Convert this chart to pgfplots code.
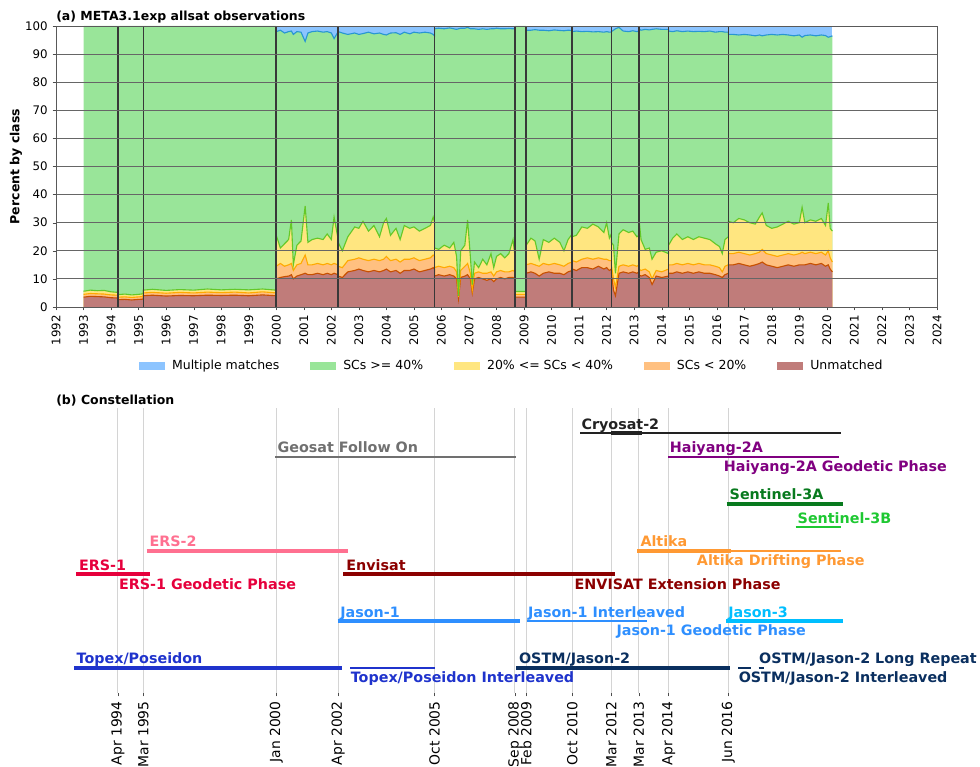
\documentclass[border=0pt]{standalone}
\usepackage{fontspec}
\setmainfont{DejaVu Sans}
\usepackage{pgfplots}
\pgfplotsset{compat=1.18}
\usepackage{pgfplotstable}

% fills
\definecolor{mmF}{RGB}{140,196,255}
\definecolor{hiF}{RGB}{153,229,153}
\definecolor{midF}{RGB}{255,230,128}
\definecolor{lowF}{RGB}{255,192,128}
\definecolor{unF}{RGB}{192,124,122}
% edges
\definecolor{mmL}{RGB}{40,150,210}
\definecolor{hiL}{RGB}{100,200,40}
\definecolor{midL}{RGB}{255,170,0}
\definecolor{lowL}{RGB}{200,80,0}
% missions
\definecolor{cryo}{RGB}{34,34,34}
\definecolor{gfo}{RGB}{112,112,112}
\definecolor{hy}{RGB}{128,0,128}
\definecolor{sthreeA}{RGB}{8,122,30}
\definecolor{sthreeB}{RGB}{30,200,50}
\definecolor{erstwo}{RGB}{255,112,144}
\definecolor{altika}{RGB}{255,153,51}
\definecolor{ersone}{RGB}{230,0,60}
\definecolor{envi}{RGB}{139,0,0}
\definecolor{jone}{RGB}{46,143,255}
\definecolor{jthree}{RGB}{0,191,255}
\definecolor{tp}{RGB}{31,51,204}
\definecolor{ostm}{RGB}{10,47,95}

\newcommand{\lab}{\fontsize{10.3}{12}\selectfont\bfseries}

% cumulative tops: c1 unmatched, c2 SCs<20, c3 20-40, c4 SCs>=40
\pgfplotstableread{
x c1 c2 c3 c4
1993.00 3.5 4.5 5.6 100
1993.25 3.8 4.8 6.0 100
1993.50 3.7 4.7 5.8 100
1993.75 3.6 4.6 5.9 100
1994.00 3.3 4.3 5.4 100
1994.25 3.2 4.2 5.2 100
1994.25 2.6 3.5 4.4 100
1994.50 2.7 3.6 4.6 100
1994.75 2.5 3.4 4.3 100
1995.00 2.7 3.6 4.5 100
1995.17 2.8 3.7 4.7 100
1995.17 4.0 5.0 6.0 100
1995.50 4.2 5.2 6.3 100
1996.00 3.9 4.9 5.9 100
1996.50 4.1 5.2 6.2 100
1997.00 4.0 5.0 6.0 100
1997.50 4.2 5.3 6.4 100
1998.00 4.1 5.1 6.1 100
1998.50 4.2 5.3 6.3 100
1999.00 4.0 5.0 6.1 100
1999.50 4.3 5.4 6.4 100
2000.00 4.0 5.0 6.0 100
2000.00 10.0 14.5 25.5 98.0
2000.15 10.5 15.5 21.0 98.5
2000.30 10.8 14.5 22.5 97.5
2000.45 11.0 15.0 24.0 98.0
2000.55 11.5 15.5 31.0 98.2
2000.62 10.0 13.0 15.0 97.0
2000.75 11.0 15.0 22.0 98.0
2000.90 11.5 15.5 23.5 97.8
2001.05 12.0 18.5 36.0 94.5
2001.15 11.5 15.0 23.0 97.5
2001.30 11.5 15.0 24.0 98.0
2001.50 12.0 15.5 24.5 98.2
2001.70 11.5 15.0 24.0 97.8
2001.85 12.0 15.5 26.0 98.0
2002.00 11.5 15.0 24.0 97.5
2002.10 12.0 15.5 32.0 95.5
2002.25 11.5 15.0 24.0 98.0
2002.25 11.0 14.5 23.0 98.0
2002.40 10.5 14.0 20.0 97.5
2002.60 12.5 16.5 25.0 97.0
2002.85 13.0 17.0 28.5 97.5
2003.00 13.5 17.5 28.0 97.0
2003.15 13.0 17.0 30.5 97.3
2003.35 12.5 16.5 27.0 97.8
2003.55 13.0 17.0 29.0 97.2
2003.75 12.5 16.5 25.0 97.5
2003.90 13.0 17.0 30.0 97.0
2004.00 13.5 18.0 31.5 96.8
2004.15 12.5 16.5 25.5 97.5
2004.35 13.0 17.0 28.0 97.6
2004.50 12.0 16.0 24.0 97.0
2004.65 13.0 17.0 29.0 97.8
2004.85 13.0 17.0 28.0 97.2
2005.00 13.5 17.5 28.5 97.8
2005.20 12.5 16.5 27.0 97.5
2005.40 13.0 17.0 28.0 97.8
2005.60 13.5 17.5 29.0 97.5
2005.70 14.0 18.5 32.0 97.0
2005.75 13.5 18.0 30.0 96.5
2005.75 11.0 14.0 21.0 99.0
2005.90 11.5 14.5 20.5 99.2
2006.10 11.0 14.0 22.0 99.0
2006.30 11.5 14.5 21.0 99.3
2006.45 11.0 14.0 23.0 99.0
2006.55 10.0 12.5 18.0 98.8
2006.62 3.0 3.5 4.0 99.0
2006.70 10.5 13.0 20.0 99.2
2006.85 11.0 14.5 22.0 99.2
2006.95 11.5 15.5 31.0 99.5
2007.05 10.0 12.0 18.0 99.0
2007.12 5.0 6.0 8.0 99.0
2007.20 10.0 12.0 16.0 99.0
2007.35 10.5 12.5 14.0 98.8
2007.50 10.0 12.0 17.0 99.0
2007.65 9.5 12.0 15.0 98.8
2007.80 10.0 12.5 19.0 99.0
2007.90 9.0 11.0 14.0 99.0
2008.00 10.0 12.5 18.0 99.2
2008.15 10.5 13.0 19.0 99.0
2008.30 10.0 12.5 17.5 99.0
2008.45 10.5 12.5 19.0 99.1
2008.60 10.5 13.0 24.0 99.0
2008.67 10.0 12.5 18.0 99.0
2008.67 3.5 4.5 5.5 100
2009.08 3.5 4.5 5.5 100
2009.08 12.0 15.0 22.0 98.5
2009.25 12.5 15.5 24.5 98.5
2009.40 12.0 15.0 23.5 98.7
2009.55 11.0 14.5 17.0 98.5
2009.70 12.0 15.5 24.0 98.5
2009.90 12.5 15.0 23.0 98.3
2010.10 12.0 15.5 24.5 98.6
2010.30 12.0 15.0 23.0 98.4
2010.45 11.5 14.5 20.0 98.3
2010.60 12.5 15.5 24.0 98.5
2010.75 13.0 16.0 26.0 98.4
2010.75 13.5 16.5 25.0 98.0
2010.90 13.0 16.0 25.5 98.2
2011.10 14.0 17.0 28.5 98.0
2011.30 14.0 17.5 28.0 98.1
2011.50 13.5 17.0 29.5 97.9
2011.70 14.5 17.5 28.5 98.0
2011.90 13.5 17.0 26.5 97.8
2012.00 14.0 17.0 30.0 98.0
2012.10 13.0 16.5 24.5 97.8
2012.17 13.5 16.5 26.0 97.8
2012.17 12.5 15.0 23.0 98.0
2012.25 6.0 10.0 22.0 98.5
2012.32 4.0 7.0 12.0 99.0
2012.45 12.0 14.5 26.0 99.5
2012.60 12.5 15.0 27.5 98.2
2012.80 12.0 14.5 26.5 98.0
2012.95 12.5 15.0 27.0 98.3
2013.10 12.0 14.5 25.0 98.0
2013.17 12.5 15.0 25.5 98.2
2013.17 11.5 13.5 32.0 99.0
2013.25 11.0 13.0 24.0 98.5
2013.40 11.5 13.5 20.5 98.8
2013.55 10.5 12.5 21.0 98.6
2013.65 8.0 10.0 17.0 98.8
2013.80 11.0 13.0 19.5 99.0
2014.00 10.5 12.5 20.0 98.8
2014.25 11.0 13.5 19.0 98.8
2014.25 12.0 15.0 22.0 98.2
2014.40 12.0 15.0 24.5 98.0
2014.55 12.5 15.5 26.0 98.3
2014.75 12.0 15.0 24.0 98.0
2014.95 12.5 15.5 25.0 98.2
2015.15 12.0 15.0 24.0 98.0
2015.35 12.5 15.5 25.0 98.1
2015.55 12.0 15.0 24.5 98.0
2015.75 12.0 15.0 24.0 98.2
2015.95 11.5 14.5 22.5 97.8
2016.10 11.0 14.0 21.5 98.0
2016.20 10.5 12.5 19.0 98.0
2016.30 11.5 14.5 24.0 97.8
2016.42 12.0 15.0 25.0 97.8
2016.42 15.0 19.0 30.5 97.0
2016.60 15.0 19.0 30.0 97.0
2016.80 15.5 19.5 31.5 96.8
2017.00 15.0 19.0 31.0 97.0
2017.20 14.5 18.5 30.0 96.8
2017.40 15.0 19.0 29.5 96.5
2017.55 15.5 19.5 32.0 96.8
2017.65 16.0 20.5 33.5 96.5
2017.80 15.0 19.0 29.0 96.8
2018.00 14.5 18.5 28.0 97.0
2018.20 14.0 18.0 28.5 96.8
2018.40 14.5 18.5 29.5 97.0
2018.60 15.0 19.0 30.5 96.8
2018.80 14.5 18.5 29.5 96.5
2019.00 15.0 19.0 30.0 96.8
2019.10 15.0 19.5 35.5 96.0
2019.20 15.0 19.0 30.0 96.6
2019.40 15.5 19.5 31.0 96.8
2019.60 15.0 19.0 30.5 96.5
2019.80 15.5 19.5 31.5 96.8
2019.95 14.5 18.5 29.0 96.6
2020.05 15.0 20.0 37.0 96.0
2020.12 13.5 17.5 28.0 96.2
2020.20 12.5 16.0 27.0 96.5
}\classdata

\begin{document}
\begin{tikzpicture}
\useasboundingbox (0,0) rectangle (705.6pt,551.52pt);

% ---------------- (a) stacked classes ----------------
\begin{axis}[
  at={(40.32pt,330.48pt)}, anchor=south west,
  scale only axis, width=634.32pt, height=202.32pt,
  xmin=1992, xmax=2024, ymin=0, ymax=100,
  xtick={1992,1993,...,2024}, ytick={0,10,...,100},
  /pgf/number format/1000 sep={},
  /pgf/number format/assume math mode=true,
  xticklabel style={rotate=90, anchor=east, font=\fontsize{8.5}{10}\selectfont},
  yticklabel style={font=\fontsize{8.5}{10}\selectfont},
  tick align=outside, xtick pos=bottom, ytick pos=left,
  major tick length=2.5pt, tick style={draw=black!70},
  ymajorgrids, grid style={draw=black!60, line width=0.6pt},
  axis line style={draw=black!65},
  axis on top,
  ylabel={\bfseries Percent by class},
  ylabel style={font=\fontsize{9}{11}\selectfont, at={(rel axis cs:-0.0454,0.5)}, anchor=center},
  title={\bfseries (a) META3.1exp allsat observations},
  title style={at={(rel axis cs:0,1)}, anchor=base west, inner sep=0pt, yshift=-1.7pt, font=\fontsize{9}{11}\selectfont},
  legend columns=5,
  legend style={at={(0.5176,-0.21)}, anchor=center, draw=none, fill=none,
    font=\fontsize{9}{11}\selectfont,
    /tikz/every even column/.append style={column sep=20pt}},
  legend image code/.code={\fill[#1] (0pt,-3pt) rectangle (18.7pt,3pt); \path (22pt,0pt);},
]
\addplot[fill=mmF, draw=none] coordinates {(1993,100) (2020.2,100)} \closedcycle;
\addplot[fill=hiF, draw=none] table[x=x, y=c4] {\classdata} \closedcycle;
\addplot[fill=midF, draw=none] table[x=x, y=c3] {\classdata} \closedcycle;
\addplot[fill=lowF, draw=none] table[x=x, y=c2] {\classdata} \closedcycle;
\addplot[fill=unF, draw=none] table[x=x, y=c1] {\classdata} \closedcycle;
\legend{Multiple matches, SCs >= 40\%, 20\% <= SCs < 40\%, SCs < 20\%, Unmatched}

\addplot[draw=lowL, line width=0.8pt, forget plot] table[x=x, y=c1] {\classdata};
\addplot[draw=midL, line width=0.8pt, forget plot] table[x=x, y=c2] {\classdata};
\addplot[draw=hiL, line width=0.8pt, forget plot] table[x=x, y=c3] {\classdata};
\addplot[draw=mmL, line width=0.8pt, forget plot, unbounded coords=jump,
  restrict y to domain=0:99.9] table[x=x, y=c4] {\classdata};

% mission change dates
\addplot[ycomb, draw=black!78, line width=1.1pt, mark=none, forget plot] coordinates {
  (1994.25,100) (1995.17,100) (2000.0,100) (2002.25,100) (2005.75,100) (2008.67,100)
  (2009.08,100) (2010.75,100) (2012.17,100) (2013.17,100) (2014.25,100) (2016.42,100)};
\end{axis}

% ---------------- (b) constellation ----------------
\begin{axis}[
  at={(40.32pt,52.56pt)}, anchor=south west,
  scale only axis, width=634.32pt, height=205.2pt,
  xmin=1992, xmax=2024, ymin=-693, ymax=-408,
  clip=false,
  axis line style={draw=none},
  ytick=\empty,
  xtick={1994.25,1995.17,2000.0,2002.25,2005.75,2008.67,2009.08,2010.75,2012.17,2013.17,2014.25,2016.42},
  xticklabels={Apr 1994,Mar 1995,Jan 2000,Apr 2002,Oct 2005,Sep 2008,Feb 2009,Oct 2010,Mar 2012,Mar 2013,Apr 2014,Jun 2016},
  xticklabel style={rotate=90, anchor=east, font=\fontsize{10}{12}\selectfont},
  tick align=outside, xtick pos=bottom, major tick length=2.5pt, tick style={draw=black!70},
  xmajorgrids, grid style={draw=black!17, line width=0.7pt},
  title={\bfseries (b) Constellation},
  title style={at={(rel axis cs:0,1)}, anchor=base west, inner sep=0pt, yshift=-3.8pt, font=\fontsize{9}{11}\selectfont},
]
% Cryosat-2
\addplot[draw=cryo, line width=1.44pt] coordinates {(2011.04,-433.3) (2020.53,-433.3)};
\addplot[draw=cryo, line width=2.9pt] coordinates {(2012.17,-433.3) (2013.27,-433.3)};
\node[anchor=base west, text=cryo, font=\lab, inner sep=0pt] at (axis cs:2011.08,-429.3) {Cryosat-2};
% Geosat Follow On
\addplot[draw=gfo, line width=1.44pt] coordinates {(1999.97,-456.7) (2008.69,-456.7)};
\node[anchor=base west, text=gfo, font=\lab, inner sep=0pt] at (axis cs:2000.04,-452.7) {Geosat Follow On};
% Haiyang-2A
\addplot[draw=hy, line width=1.44pt] coordinates {(2014.24,-456.7) (2020.43,-456.7)};
\node[anchor=base west, text=hy, font=\lab, inner sep=0pt] at (axis cs:2014.29,-452.7) {Haiyang-2A};
\node[anchor=base west, text=hy, font=\lab, inner sep=0pt] at (axis cs:2016.25,-471.2) {Haiyang-2A Geodetic Phase};
% Sentinel-3A / 3B
\addplot[draw=sthreeA, line width=2.9pt] coordinates {(2016.36,-503.7) (2020.6,-503.7)};
\node[anchor=base west, text=sthreeA, font=\lab, inner sep=0pt] at (axis cs:2016.46,-499.7) {Sentinel-3A};
\addplot[draw=sthreeB, line width=1.44pt] coordinates {(2018.86,-527) (2020.53,-527)};
\node[anchor=base west, text=sthreeB, font=\lab, inner sep=0pt] at (axis cs:2018.93,-523) {Sentinel-3B};
% ERS-2
\addplot[draw=erstwo, line width=2.9pt] coordinates {(1995.29,-550.7) (2002.59,-550.7)};
\node[anchor=base west, text=erstwo, font=\lab, inner sep=0pt] at (axis cs:1995.39,-546.7) {ERS-2};
% Altika
\addplot[draw=altika, line width=2.9pt] coordinates {(2013.12,-550.7) (2016.50,-550.7)};
\addplot[draw=altika, line width=1.3pt] coordinates {(2016.50,-550.7) (2020.53,-550.7)};
\node[anchor=base west, text=altika, font=\lab, inner sep=0pt] at (axis cs:2013.22,-546.7) {Altika};
\node[anchor=base west, text=altika, font=\lab, inner sep=0pt] at (axis cs:2015.27,-565.2) {Altika Drifting Phase};
% ERS-1
\addplot[draw=ersone, line width=2.9pt] coordinates {(1992.74,-574) (1995.43,-574)};
\node[anchor=base west, text=ersone, font=\lab, inner sep=0pt] at (axis cs:1992.83,-570) {ERS-1};
\node[anchor=base west, text=ersone, font=\lab, inner sep=0pt] at (axis cs:1994.28,-589.5) {ERS-1 Geodetic Phase};
% Envisat
\addplot[draw=envi, line width=2.9pt] coordinates {(2002.44,-574) (2012.32,-574)};
\node[anchor=base west, text=envi, font=\lab, inner sep=0pt] at (axis cs:2002.54,-570) {Envisat};
\node[anchor=base west, text=envi, font=\lab, inner sep=0pt] at (axis cs:2010.83,-589.5) {ENVISAT Extension Phase};
% Jason-1
\addplot[draw=jone, line width=2.9pt] coordinates {(2002.23,-621) (2008.86,-621)};
\node[anchor=base west, text=jone, font=\lab, inner sep=0pt] at (axis cs:2002.32,-617) {Jason-1};
\addplot[draw=jone, line width=1.3pt] coordinates {(2009.12,-621) (2013.47,-621)};
\node[anchor=base west, text=jone, font=\lab, inner sep=0pt] at (axis cs:2009.14,-617) {Jason-1 Interleaved};
\node[anchor=base west, text=jone, font=\lab, inner sep=0pt] at (axis cs:2012.35,-635.5) {Jason-1 Geodetic Phase};
% Jason-3
\addplot[draw=jthree, line width=2.9pt] coordinates {(2016.34,-621) (2020.6,-621)};
\node[anchor=base west, text=jthree, font=\lab, inner sep=0pt] at (axis cs:2016.41,-617) {Jason-3};
% Topex/Poseidon
\addplot[draw=tp, line width=2.9pt] coordinates {(1992.67,-667.7) (2002.37,-667.7)};
\node[anchor=base west, text=tp, font=\lab, inner sep=0pt] at (axis cs:1992.74,-663.7) {Topex/Poseidon};
\addplot[draw=tp, line width=1.3pt] coordinates {(2002.69,-667.7) (2005.77,-667.7)};
\node[anchor=base west, text=tp, font=\lab, inner sep=0pt] at (axis cs:2002.70,-682.2) {Topex/Poseidon Interleaved};
% OSTM/Jason-2
\addplot[draw=ostm, line width=2.9pt] coordinates {(2008.72,-667.7) (2016.47,-667.7)};
\node[anchor=base west, text=ostm, font=\lab, inner sep=0pt] at (axis cs:2008.81,-663.7) {OSTM/Jason-2};
\addplot[draw=ostm, line width=1.3pt] coordinates {(2016.78,-667.7) (2017.26,-667.7)};
\node[anchor=base west, text=ostm, font=\lab, inner sep=0pt] at (axis cs:2016.79,-682.2) {OSTM/Jason-2 Interleaved};
\addplot[draw=ostm, line width=1.3pt] coordinates {(2017.52,-667.7) (2017.70,-667.7)};
\node[anchor=base west, text=ostm, font=\lab, inner sep=0pt] at (axis cs:2017.53,-663.7) {OSTM/Jason-2 Long Repeat};
\end{axis}
\end{tikzpicture}
\end{document}
